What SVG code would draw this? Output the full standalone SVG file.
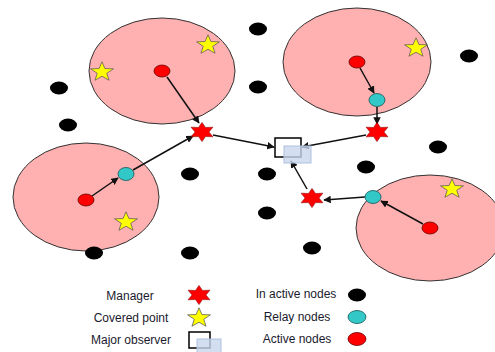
<svg xmlns="http://www.w3.org/2000/svg" width="495" height="352" viewBox="0 0 495 352">
<style>
.area{fill:#ffb0b0;stroke:#333;stroke-width:1}
.dot{fill:#000}
.act{fill:#ff0000;stroke:#600;stroke-width:0.8}
.rel{fill:#33c8c8;stroke:#155;stroke-width:0.8}
.mgr{fill:#ff0000;stroke:#800;stroke-width:0.6}
.cov{fill:#ffff00;stroke:#555;stroke-width:0.8}
.obs{fill:#fff;stroke:#000;stroke-width:1.5}
.obs2{fill:#c8d6ec;fill-opacity:0.8;stroke:#b0c2de;stroke-width:1}
.lnk{stroke:#111;stroke-width:1.5;fill:none;marker-end:url(#ah)}
text{font-family:"Liberation Sans",Arial,sans-serif;font-size:12px;fill:#1a1a2e;text-anchor:middle}
</style>
<defs>
<marker id="ah" viewBox="0 0 10 10" refX="9" refY="5" markerWidth="5" markerHeight="5" orient="auto" markerUnits="strokeWidth">
<path d="M0,0 L10,5 L0,10 Z" fill="#111"/>
</marker>
<path id="star6" d="M0,-12 L3.3,-5.7 L10.4,-6 L6.6,0 L10.4,6 L3.3,5.7 L0,12 L-3.3,5.7 L-10.4,6 L-6.6,0 L-10.4,-6 L-3.3,-5.7 Z" transform="scale(1.05,0.8)"/>
<path id="star5" d="M0,-12 L2.94,-4.05 L11.41,-3.71 L4.76,1.55 L7.05,9.71 L0,5 L-7.05,9.71 L-4.76,1.55 L-11.41,-3.71 L-2.94,-4.05 Z" transform="scale(1,0.85)"/>
</defs>

<g id="area1"><ellipse class="area" cx="162" cy="71" rx="73" ry="53"/></g>
<g id="area2"><ellipse class="area" cx="357" cy="62" rx="74" ry="54"/></g>
<g id="area3"><ellipse class="area" cx="86" cy="197" rx="73" ry="54"/></g>
<g id="area4"><ellipse class="area" cx="430" cy="228" rx="74" ry="53"/></g>

<g id="inactive">
<ellipse class="dot" cx="59" cy="88" rx="9" ry="6.5"/>
<ellipse class="dot" cx="68" cy="125" rx="9" ry="6.5"/>
<ellipse class="dot" cx="258" cy="29" rx="9" ry="6.5"/>
<ellipse class="dot" cx="258" cy="87" rx="9" ry="6.5"/>
<ellipse class="dot" cx="469" cy="56" rx="9" ry="6.5"/>
<ellipse class="dot" cx="438" cy="147" rx="9" ry="6.5"/>
<ellipse class="dot" cx="366" cy="167" rx="9" ry="6.5"/>
<ellipse class="dot" cx="267" cy="174" rx="9" ry="6.5"/>
<ellipse class="dot" cx="190" cy="174" rx="9" ry="6.5"/>
<ellipse class="dot" cx="267" cy="213" rx="9" ry="6.5"/>
<ellipse class="dot" cx="312" cy="248" rx="9" ry="6.5"/>
<ellipse class="dot" cx="94" cy="253" rx="9" ry="6.5"/>
<ellipse class="dot" cx="190" cy="253" rx="9" ry="6.5"/>
</g>

<g id="connectors">
<line class="lnk" x1="167" y1="77" x2="199" y2="123"/>
<line class="lnk" x1="133" y1="170" x2="193" y2="136"/>
<line class="lnk" x1="92" y1="196" x2="118" y2="178"/>
<line class="lnk" x1="213" y1="135" x2="274" y2="147"/>
<line class="lnk" x1="366" y1="135" x2="302" y2="147"/>
<line class="lnk" x1="360" y1="68" x2="374" y2="93"/>
<line class="lnk" x1="377" y1="107" x2="377" y2="124"/>
<line class="lnk" x1="423" y1="224" x2="381" y2="201"/>
<line class="lnk" x1="365" y1="197" x2="324" y2="200"/>
<line class="lnk" x1="307" y1="189" x2="291" y2="161"/>
</g>

<g id="active">
<ellipse class="act" cx="162" cy="71" rx="8" ry="6"/>
<ellipse class="act" cx="357" cy="62" rx="8" ry="6"/>
<ellipse class="act" cx="86" cy="200" rx="8" ry="6"/>
<ellipse class="act" cx="430" cy="228" rx="8" ry="6"/>
</g>

<g id="relay">
<ellipse class="rel" cx="126" cy="174" rx="8" ry="6.5"/>
<ellipse class="rel" cx="377" cy="100" rx="8" ry="6.5"/>
<ellipse class="rel" cx="373" cy="197" rx="8" ry="6.5"/>
</g>

<g id="covered">
<use href="#star5" class="cov" x="208" y="45"/>
<use href="#star5" class="cov" x="102" y="72"/>
<use href="#star5" class="cov" x="416" y="48"/>
<use href="#star5" class="cov" x="126" y="222"/>
<use href="#star5" class="cov" x="452" y="189"/>
</g>

<g id="managers">
<use href="#star6" class="mgr" x="202" y="132"/>
<use href="#star6" class="mgr" x="377" y="132"/>
<use href="#star6" class="mgr" x="312" y="198"/>
</g>

<g id="observer">
<rect class="obs" x="275" y="138" width="26" height="19"/>
<rect class="obs2" x="284" y="146" width="27" height="17"/>
</g>

<g id="legend">
<text x="130" y="300">Manager</text>
<use href="#star6" class="mgr" x="199" y="295"/>
<text x="131" y="322">Covered point</text>
<use href="#star5" class="cov" x="199" y="318"/>
<text x="131" y="344">Major observer</text>
<rect class="obs" x="189" y="332" width="21" height="16"/>
<rect class="obs2" x="197" y="339" width="24" height="16"/>
<text x="296" y="298">In active nodes</text>
<ellipse class="dot" cx="357" cy="295" rx="9" ry="6.5"/>
<text x="297" y="321">Relay nodes</text>
<ellipse class="rel" cx="357" cy="317" rx="9" ry="6.5"/>
<text x="297" y="343">Active nodes</text>
<ellipse class="act" cx="357" cy="339" rx="9" ry="6.5"/>
</g>
</svg>
